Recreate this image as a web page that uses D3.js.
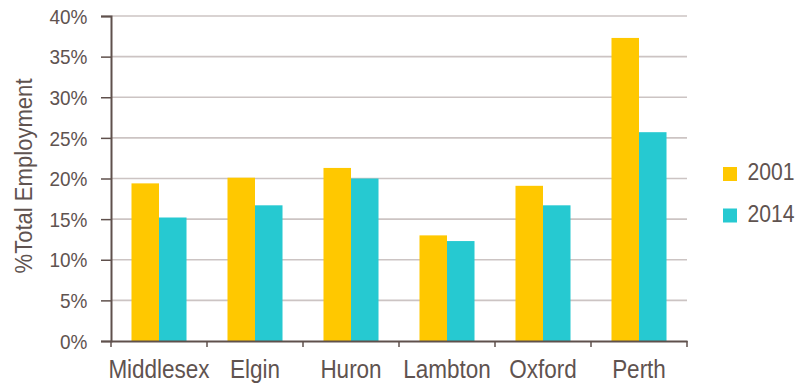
<!DOCTYPE html>
<html>
<head>
<meta charset="utf-8">
<script src="https://cdn.jsdelivr.net/npm/d3@7"></script>
<style>
  html, body { margin: 0; padding: 0; background: #fff; }
  svg { display: block; }
  text { font-family: "Liberation Sans", Arial, sans-serif; fill: #5f5350; }
</style>
</head>
<body>
<svg id="chart" width="799" height="385"></svg>
<script>
// Share of total employment by county, 2001 vs 2014
const categories = ["Middlesex", "Elgin", "Huron", "Lambton", "Oxford", "Perth"];
const seriesNames = ["2001", "2014"];
const values2001 = [19.4, 20.1, 21.3, 13.0, 19.1, 37.3];
const values2014 = [15.2, 16.7, 20.0, 12.3, 16.7, 25.7];
const yTicks = [0, 5, 10, 15, 20, 25, 30, 35, 40];
const colors = ["#ffc800", "#26c9d1"];

const svg = d3.select("#chart");
const margin = { left: 111, right: 112, top: 16, bottom: 44 };
const width = 799 - margin.left - margin.right;
const height = 385 - margin.top - margin.bottom;

const g = svg.append("g").attr("transform", `translate(${margin.left},${margin.top})`);

const x = d3.scaleBand().domain(categories).range([0, width]).paddingInner(0).paddingOuter(0);
const inner = d3.scaleBand().domain(seriesNames).range([0, x.bandwidth()]).paddingInner(0).paddingOuter(0.745);
const y = d3.scaleLinear().domain([0, 40]).range([height, 0]);

// condensed look: narrow the glyphs horizontally
const condense = (sel, sx) => sel.attr("transform", `scale(${sx},1)`);

// horizontal gridlines
g.append("g")
  .selectAll("line")
  .data(yTicks.filter(d => d > 0))
  .join("line")
  .attr("x1", 0).attr("x2", width)
  .attr("y1", d => y(d)).attr("y2", d => y(d))
  .attr("stroke", "#ccc4c3").attr("stroke-width", 1.6);

// bars
const rows = categories.map((c, i) => ({ cat: c, vals: [values2001[i], values2014[i]] }));
const groups = g.append("g").selectAll("g").data(rows).join("g")
  .attr("transform", d => `translate(${x(d.cat)},0)`);
groups.selectAll("rect")
  .data(d => d.vals.map((v, j) => ({ key: seriesNames[j], v, j })))
  .join("rect")
  .attr("x", d => inner(d.key))
  .attr("width", inner.bandwidth())
  .attr("y", d => y(d.v))
  .attr("height", d => y(0) - y(d.v))
  .attr("fill", d => colors[d.j]);

// y axis
const yAxis = g.append("g")
  .call(d3.axisLeft(y).tickValues(yTicks).tickFormat(d => d + "%").tickSize(10).tickPadding(0));
yAxis.select(".domain").attr("stroke", "#5f504c").attr("stroke-width", 2);
yAxis.selectAll(".tick line").attr("stroke", "#5f504c").attr("stroke-width", 1.5);
yAxis.selectAll(".tick text")
  .attr("font-size", 20).attr("dy", "0.36em").attr("x", 0)
  .attr("transform", "translate(-23.5,0) scale(0.95,1)")
  .attr("fill", "#5f5350");

// x axis
const xAxis = g.append("g").attr("transform", `translate(0,${height})`)
  .call(d3.axisBottom(x).tickSize(0).tickPadding(0));
xAxis.select(".domain").attr("stroke", "#5f504c").attr("stroke-width", 2);
xAxis.selectAll(".tick text")
  .attr("font-size", 25).attr("y", 0).attr("dy", 37.3)
  .attr("fill", "#5f5350")
  .call(condense, 0.9);
// category separators
xAxis.append("g").selectAll("line")
  .data(d3.range(categories.length + 1))
  .join("line")
  .attr("x1", i => i * x.step()).attr("x2", i => i * x.step())
  .attr("y1", 0).attr("y2", 6)
  .attr("stroke", "#5f504c").attr("stroke-width", 1.5);

// y axis title
svg.append("text")
  .attr("transform", `translate(32,176) rotate(-90) scale(0.96,1)`)
  .attr("text-anchor", "middle")
  .attr("font-size", 23)
  .text("%Total Employment");

// legend
const legend = svg.append("g").attr("transform", "translate(723,167)");
seriesNames.forEach((s, i) => {
  const lg = legend.append("g").attr("transform", `translate(0,${i * 41.5})`);
  lg.append("rect").attr("width", 14).attr("height", 14).attr("fill", colors[i]);
  lg.append("text").attr("transform", "translate(24.5,13.2) scale(0.88,1)")
    .attr("font-size", 24).text(s);
});
</script>
</body>
</html>
